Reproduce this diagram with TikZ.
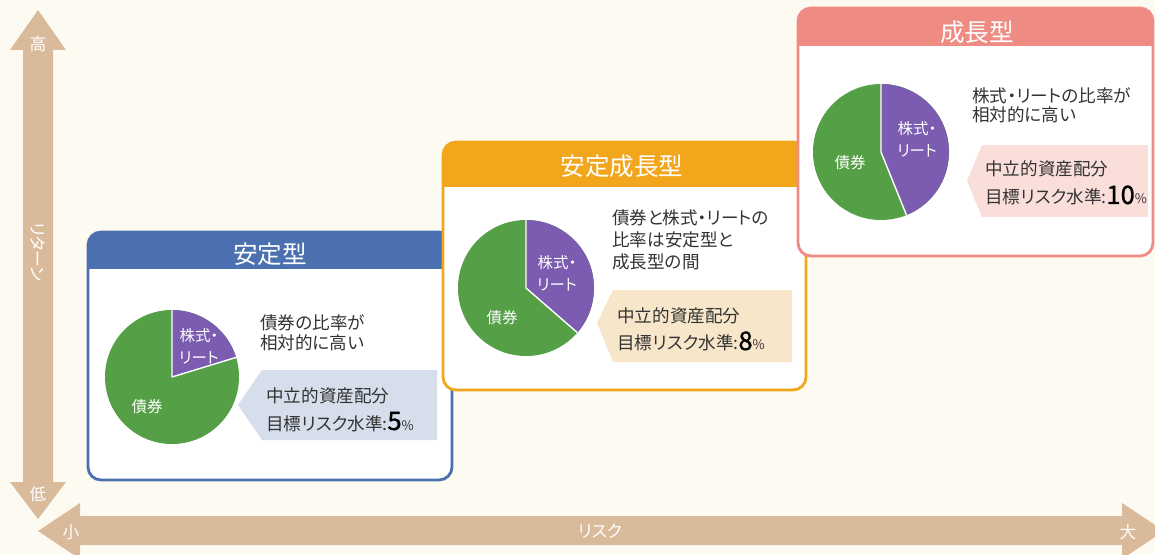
\documentclass[tikz,border=0pt]{standalone}
\usepackage{fontspec}
\setmainfont{Noto Sans CJK JP}[RawFeature=+palt]
\newfontfamily\numfont{Noto Sans CJK JP}[FakeBold=1.2]
\usetikzlibrary{calc, positioning}

\definecolor{bgcream}{HTML}{FDFAF2}
\definecolor{axistan}{HTML}{D9BB9C}
\definecolor{steadyblue}{HTML}{4A70B0}
\definecolor{midorange}{HTML}{F2A61C}
\definecolor{growthpink}{HTML}{EE8C84}
\definecolor{piegreen}{HTML}{55A046}
\definecolor{piepurple}{HTML}{7B5CB0}
\definecolor{tagblue}{HTML}{D6DEEC}
\definecolor{tagbeige}{HTML}{F8E6CB}
\definecolor{tagpink}{HTML}{F9DEDA}
\definecolor{textgray}{HTML}{333333}

\newcommand{\risklevel}[1]{{\numfont\fontsize{14.5}{14}\selectfont\color{black}#1}{\fontsize{7.5}{8}\selectfont\%}}

\begin{document}
\begin{tikzpicture}[x=0.02cm, y=-0.02cm,
	axislabel/.style={text=white, inner sep=0pt, font=\fontsize{9.5}{10}\selectfont},
	boxtitle/.style={text=white, inner sep=0pt, font=\fontsize{14}{15}\selectfont},
	boxborder/.style={line width=1.6pt, rounded corners=0.26cm},
	bodyline/.style={text=textgray, inner sep=0pt, anchor=base west, font=\fontsize{10}{12}\selectfont},
	slicelabel/.style={text=white, inner sep=0pt, align=center, font=\fontsize{8.8}{12.5}\selectfont},
	]

		\fill[bgcream] (0,0) rectangle (1155,554);
		\useasboundingbox (0,0) rectangle (1155,554);
		\clip (0,0) rectangle (1155,554);

		% axes
		\fill[axistan] (38,10) -- (66,50) -- (53,50) -- (53,482) -- (66,482) -- (38,519)
			-- (10,482) -- (23,482) -- (23,50) -- (10,50) -- cycle;
		\fill[axistan] (38,531) -- (80,503) -- (80,516) -- (1122,516) -- (1122,503) -- (1164,531)
			-- (1122,559) -- (1122,545) -- (80,545) -- (80,559) -- cycle;

		\node[axislabel] (high) at (38,44) {高};
		\node[axislabel] (low) at (38,494) {低};
		\node[axislabel, rotate=-90] (ret) at (38,252) {リターン};
		\node[axislabel] (small) at (71,532) {小};
		\node[axislabel] (risk) at (600,531) {リスク};
		\node[axislabel] (large) at (1128,532) {大};

		% 安定型
		\begin{scope}
			\clip[rounded corners=0.26cm] (88,232) rectangle (452,480);
			\fill[white] (88,232) rectangle (452,480);
			\fill[steadyblue] (88,232) rectangle (452,269);
		\end{scope}
		\draw[boxborder, draw=steadyblue] (88,232) rectangle (452,480);
		\node[boxtitle] (titlea) at (270,254) {安定型};

		\coordinate (piea) at (172,377);
		\fill[piegreen] (piea) circle[radius=67];
		\fill[piepurple] (piea) -- ++(-90:67) arc[start angle=-90, end angle=-17, radius=67] -- cycle;
		\draw[white, line width=0.8pt] (piea) -- ++(-90:67) (piea) -- ++(-17:67);
		\node[slicelabel] (stocka) at (199,346) {株式・\\リート};
		\node[slicelabel] (bonda) at (147,407) {債券};

		\node[bodyline] (desca) at (260,329) {債券の比率が};
		\node[below=4mm of desca.base west, anchor=base west, bodyline] (descb) {相対的に高い};

		\fill[tagblue] (238,405) -- (262,370) -- (437,370) -- (437,440) -- (262,440) -- cycle;
		\node[bodyline] (neutrala) at (266,402) {中立的資産配分};
		\node[below=5.6mm of neutrala.base west, anchor=base west, bodyline] (targeta)
			{目標リスク水準:\risklevel{5}};

		% 安定成長型
		\begin{scope}
			\clip[rounded corners=0.26cm] (443,142) rectangle (806,390);
			\fill[white] (443,142) rectangle (806,390);
			\fill[midorange] (443,142) rectangle (806,187);
		\end{scope}
		\draw[boxborder, draw=midorange] (443,142) rectangle (806,390);
		\node[boxtitle] (titleb) at (622,166) {安定成長型};

		\coordinate (pieb) at (526,288);
		\fill[piegreen] (pieb) circle[radius=68];
		\fill[piepurple] (pieb) -- ++(-90:68) arc[start angle=-90, end angle=41, radius=68] -- cycle;
		\draw[white, line width=0.8pt] (pieb) -- ++(-90:68) (pieb) -- ++(41:68);
		\node[slicelabel] (stockb) at (557,273) {株式・\\リート};
		\node[slicelabel] (bondb) at (502,318) {債券};

		\node[bodyline] (descc) at (612,224) {債券と株式・リートの};
		\node[below=4.5mm of descc.base west, anchor=base west, bodyline] (descd) {比率は安定型と};
		\node[below=4.5mm of descd.base west, anchor=base west, bodyline] (desce) {成長型の間};

		\fill[tagbeige] (597,323) -- (613,290) -- (792,290) -- (792,362) -- (613,362) -- cycle;
		\node[bodyline] (neutralb) at (617,322) {中立的資産配分};
		\node[below=5.6mm of neutralb.base west, anchor=base west, bodyline] (targetb)
			{目標リスク水準:\risklevel{8}};

		% 成長型
		\begin{scope}
			\clip[rounded corners=0.26cm] (798,8) rectangle (1153,256);
			\fill[white] (798,8) rectangle (1153,256);
			\fill[growthpink] (798,8) rectangle (1153,46);
		\end{scope}
		\draw[boxborder, draw=growthpink] (798,8) rectangle (1153,256);
		\node[boxtitle] (titlec) at (977,32) {成長型};

		\coordinate (piec) at (881,152);
		\fill[piegreen] (piec) circle[radius=68];
		\fill[piepurple] (piec) -- ++(-90:68) arc[start angle=-90, end angle=68, radius=68] -- cycle;
		\draw[white, line width=0.8pt] (piec) -- ++(-90:68) (piec) -- ++(68:68);
		\node[slicelabel] (stockc) at (917,139) {株式・\\リート};
		\node[slicelabel] (bondc) at (850,163) {債券};

		\node[bodyline] (descf) at (972,102) {株式・リートの比率が};
		\node[below=4mm of descf.base west, anchor=base west, bodyline] (descg) {相対的に高い};

		\fill[tagpink] (967,181) -- (982,145) -- (1148,145) -- (1148,217) -- (982,217) -- cycle;
		\node[bodyline] (neutralc) at (985,175) {中立的資産配分};
		\node[below=5.8mm of neutralc.base west, anchor=base west, bodyline] (targetc)
			{目標リスク水準:\risklevel{10}};

	\end{tikzpicture}
\end{document}
